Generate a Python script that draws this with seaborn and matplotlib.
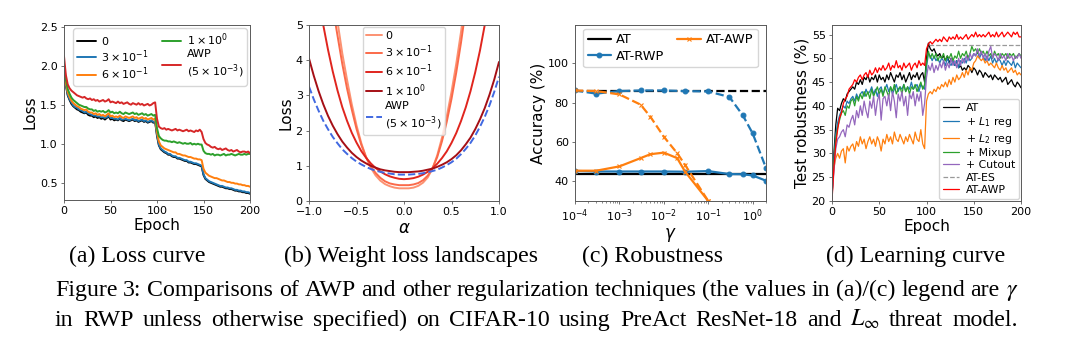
import numpy as np
import matplotlib
matplotlib.use("Agg")
import matplotlib.pyplot as plt
import seaborn as sns

# ---------------------------------------------------------------- data
epochs = np.arange(0, 201, 2)

# (a) training loss per epoch for several gamma values
loss_g0 = [1.98, 1.75, 1.62, 1.56, 1.51, 1.48, 1.46, 1.44, 1.43, 1.41,
           1.40, 1.39, 1.40, 1.37, 1.36, 1.36, 1.34, 1.35, 1.33, 1.34,
           1.32, 1.33, 1.31, 1.33, 1.35, 1.31, 1.32, 1.30, 1.31, 1.30,
           1.32, 1.30, 1.29, 1.31, 1.30, 1.29, 1.30, 1.31, 1.29, 1.30,
           1.28, 1.29, 1.30, 1.28, 1.29, 1.27, 1.28, 1.29, 1.27, 1.28,
           1.10, 0.98, 0.93, 0.91, 0.89, 0.88, 0.86, 0.86, 0.84, 0.83,
           0.83, 0.81, 0.81, 0.80, 0.79, 0.78, 0.78, 0.76, 0.76, 0.75,
           0.74, 0.74, 0.73, 0.72, 0.71, 0.60, 0.55, 0.53, 0.51, 0.50,
           0.49, 0.48, 0.47, 0.46, 0.45, 0.45, 0.44, 0.43, 0.43, 0.42,
           0.42, 0.41, 0.40, 0.40, 0.39, 0.39, 0.38, 0.38, 0.37, 0.37,
           0.36]
loss_g3 = [1.99, 1.76, 1.63, 1.57, 1.53, 1.49, 1.47, 1.46, 1.44, 1.43,
           1.42, 1.40, 1.41, 1.39, 1.38, 1.37, 1.36, 1.36, 1.35, 1.35,
           1.34, 1.34, 1.33, 1.34, 1.36, 1.33, 1.33, 1.32, 1.32, 1.31,
           1.33, 1.31, 1.31, 1.32, 1.31, 1.30, 1.31, 1.32, 1.30, 1.31,
           1.29, 1.30, 1.31, 1.29, 1.30, 1.28, 1.29, 1.30, 1.28, 1.29,
           1.12, 0.99, 0.94, 0.92, 0.90, 0.89, 0.87, 0.87, 0.85, 0.84,
           0.84, 0.82, 0.82, 0.81, 0.80, 0.79, 0.79, 0.77, 0.77, 0.76,
           0.75, 0.75, 0.74, 0.73, 0.72, 0.61, 0.56, 0.54, 0.52, 0.51,
           0.50, 0.49, 0.48, 0.47, 0.46, 0.46, 0.45, 0.44, 0.44, 0.43,
           0.43, 0.42, 0.41, 0.41, 0.40, 0.40, 0.39, 0.39, 0.38, 0.38,
           0.37]
loss_g6 = [2.00, 1.78, 1.66, 1.60, 1.55, 1.52, 1.50, 1.48, 1.47, 1.45,
           1.44, 1.43, 1.44, 1.41, 1.40, 1.40, 1.38, 1.39, 1.37, 1.38,
           1.36, 1.37, 1.35, 1.37, 1.39, 1.35, 1.36, 1.34, 1.35, 1.34,
           1.36, 1.34, 1.33, 1.35, 1.34, 1.33, 1.34, 1.35, 1.33, 1.34,
           1.32, 1.33, 1.34, 1.32, 1.33, 1.31, 1.32, 1.33, 1.31, 1.32,
           1.15, 1.03, 0.98, 0.96, 0.94, 0.93, 0.92, 0.91, 0.90, 0.89,
           0.89, 0.87, 0.87, 0.86, 0.85, 0.85, 0.84, 0.83, 0.83, 0.82,
           0.81, 0.81, 0.80, 0.80, 0.79, 0.68, 0.63, 0.61, 0.59, 0.58,
           0.57, 0.56, 0.56, 0.55, 0.54, 0.53, 0.53, 0.52, 0.51, 0.51,
           0.50, 0.50, 0.49, 0.49, 0.48, 0.48, 0.47, 0.47, 0.46, 0.46,
           0.45]
loss_g10 = [2.02, 1.82, 1.70, 1.64, 1.59, 1.56, 1.54, 1.52, 1.50, 1.49,
            1.48, 1.47, 1.47, 1.45, 1.44, 1.44, 1.42, 1.43, 1.41, 1.42,
            1.41, 1.42, 1.40, 1.41, 1.43, 1.40, 1.41, 1.39, 1.40, 1.39,
            1.41, 1.39, 1.38, 1.40, 1.39, 1.38, 1.39, 1.40, 1.38, 1.39,
            1.37, 1.38, 1.39, 1.37, 1.38, 1.36, 1.37, 1.38, 1.36, 1.37,
            1.20, 1.10, 1.07, 1.05, 1.04, 1.04, 1.03, 1.03, 1.02, 1.03,
            1.02, 1.01, 1.02, 1.01, 1.00, 1.01, 1.00, 1.00, 1.01, 0.99,
            1.00, 0.99, 1.00, 0.99, 0.99, 0.91, 0.88, 0.87, 0.87, 0.86,
            0.87, 0.85, 0.86, 0.86, 0.85, 0.86, 0.87, 0.85, 0.86, 0.86,
            0.87, 0.86, 0.85, 0.86, 0.87, 0.86, 0.86, 0.87, 0.86, 0.87,
            0.87]
loss_awp = [2.12, 1.88, 1.76, 1.71, 1.68, 1.66, 1.64, 1.62, 1.61, 1.60,
            1.59, 1.60, 1.58, 1.57, 1.58, 1.56, 1.57, 1.55, 1.56, 1.54,
            1.55, 1.56, 1.54, 1.55, 1.57, 1.53, 1.54, 1.53, 1.52, 1.54,
            1.52, 1.53, 1.51, 1.52, 1.53, 1.51, 1.50, 1.52, 1.51, 1.50,
            1.52, 1.50, 1.51, 1.49, 1.50, 1.51, 1.49, 1.50, 1.52, 1.53,
            1.32, 1.22, 1.20, 1.19, 1.20, 1.18, 1.19, 1.18, 1.17, 1.18,
            1.19, 1.17, 1.18, 1.17, 1.16, 1.17, 1.18, 1.16, 1.17, 1.16,
            1.15, 1.17, 1.16, 1.18, 1.15, 1.06, 1.01, 0.99, 0.98, 0.96,
            0.95, 0.96, 0.94, 0.93, 0.94, 0.92, 0.93, 0.94, 0.92, 0.91,
            0.92, 0.90, 0.91, 0.92, 0.90, 0.89, 0.90, 0.90, 0.89, 0.90,
            0.88]
loss_labels = ["0", r"$3\times10^{-1}$", r"$6\times10^{-1}$",
               r"$1\times10^{0}$", "AWP\n" + r"($5\times10^{-3}$)"]

# (b) loss along a random weight direction
alphas = np.round(np.linspace(-1.0, 1.0, 41), 2)
land_g0 = [12.0, 10.5, 9.2, 8.0, 6.9, 6.0, 5.1, 4.2, 3.45, 2.75, 2.15,
           1.65, 1.25, 0.95, 0.73, 0.58, 0.48, 0.42, 0.38, 0.36, 0.36,
           0.36, 0.38, 0.43, 0.52, 0.67, 0.92, 1.3, 1.8, 2.4, 3.1,
           3.9, 4.8, 5.8, 6.9, 8.1, 9.4, 10.8, 12.3, 13.9, 15.6]
land_g3 = [11.0, 9.6, 8.4, 7.3, 6.3, 5.5, 4.7, 3.9, 3.2, 2.6, 2.05,
           1.6, 1.25, 0.99, 0.8, 0.66, 0.56, 0.5, 0.47, 0.45, 0.45,
           0.45, 0.47, 0.51, 0.59, 0.72, 0.93, 1.25, 1.7, 2.25, 2.9,
           3.65, 4.5, 5.45, 6.5, 7.6, 8.8, 10.1, 11.5, 13.0, 14.6]
land_g6 = [7.9, 6.8, 5.85, 5.0, 4.3, 3.68, 3.14, 2.67, 2.28, 1.94, 1.66,
           1.42, 1.23, 1.07, 0.94, 0.84, 0.76, 0.70, 0.66, 0.63, 0.62,
           0.63, 0.65, 0.69, 0.75, 0.83, 0.93, 1.06, 1.22, 1.41, 1.65,
           1.93, 2.27, 2.66, 3.12, 3.66, 4.28, 5.0, 5.82, 6.76, 7.82]
land_g10 = [4.05, 3.56, 3.13, 2.75, 2.42, 2.14, 1.90, 1.69, 1.52, 1.37, 1.25,
            1.15, 1.07, 1.00, 0.95, 0.90, 0.87, 0.85, 0.83, 0.82, 0.82,
            0.82, 0.83, 0.84, 0.86, 0.89, 0.92, 0.97, 1.03, 1.10, 1.19,
            1.30, 1.44, 1.61, 1.80, 2.04, 2.32, 2.64, 3.02, 3.45, 3.95]
land_awp = [3.25, 2.89, 2.57, 2.28, 2.04, 1.82, 1.64, 1.47, 1.34, 1.22, 1.12,
            1.04, 0.97, 0.91, 0.86, 0.83, 0.80, 0.78, 0.76, 0.75, 0.75,
            0.75, 0.76, 0.77, 0.79, 0.82, 0.85, 0.89, 0.95, 1.02, 1.10,
            1.20, 1.33, 1.48, 1.65, 1.86, 2.11, 2.39, 2.72, 3.10, 3.53]
land_labels = ["0", r"$3\times10^{-1}$", r"$6\times10^{-1}$",
               r"$1\times10^{0}$", "AWP\n" + r"($5\times10^{-3}$)"]

# (c) natural (dashed) and robust (solid) accuracy against gamma
at_natural = 86.0
at_robust = 43.8
rwp_gamma = [1e-4, 3e-4, 1e-3, 3e-3, 1e-2, 3e-2, 1e-1, 3e-1, 6e-1, 1.0, 2.0]
rwp_natural = [86.2, 84.6, 85.9, 86.2, 86.2, 85.9, 85.7, 82.9, 73.6, 64.4, 46.8]
rwp_robust = [45.3, 45.0, 45.0, 45.0, 45.0, 44.9, 45.2, 43.7, 43.6, 43.0, 40.3]
awp_gamma = [1e-4, 3e-4, 1e-3, 3e-3, 5e-3, 1e-2, 2e-2, 3e-2, 1e-1]
awp_natural = [86.2, 85.9, 84.2, 79.0, 72.8, 62.7, 54.3, 48.4, 30.0]
awp_robust = [45.4, 45.4, 47.6, 51.8, 53.8, 54.6, 51.8, 45.0, 30.0]

# (d) test robustness per epoch
rob_at = [20.5, 30, 36, 39.5, 39, 40.5, 41.5, 41, 42.5, 43,
          43.5, 44, 43.5, 45, 44.5, 45.5, 44.5, 46, 45.5, 46.5,
          45, 46, 45.5, 46.5, 45, 46.5, 45.5, 46, 45, 46.5,
          45.5, 47, 46, 45, 46.5, 46, 47, 45.5, 46.5, 45,
          46, 47, 45.5, 46.5, 46, 47, 45.5, 46.5, 47, 45,
          50, 53.2, 52, 51.5, 52, 51, 50.5, 51, 50, 50.5,
          49.5, 50.5, 49, 50, 49, 48.5, 49.5, 48, 48.5, 47.5,
          48, 47.5, 48.5, 48, 47, 48, 47.5, 46.5, 47.5, 47,
          46, 47, 46.5, 46, 46.5, 45.5, 46.5, 46, 45.5, 46,
          45, 45.5, 46, 44.5, 45, 45.5, 44.5, 44, 45, 44.5,
          43.8]
rob_l1 = [21, 29, 34, 36.5, 38, 39, 40, 39.5, 41, 40.5,
          41.5, 42, 41, 42.5, 41.5, 42.5, 43, 42, 43.5, 42.5,
          43, 44, 42.5, 43.5, 42, 43.5, 44, 42.5, 43.5, 44.5,
          43, 44, 42.5, 43.5, 44.5, 43, 44, 43.5, 44.5, 43,
          44, 43.5, 45, 43.5, 44, 44.5, 43, 44.5, 44, 43.5,
          48, 51, 50.5, 49.5, 50.5, 49.5, 50, 49, 50, 49.5,
          48.5, 50, 49, 48.5, 49.5, 48.5, 49.5, 48, 49.5, 49,
          50, 49, 50.5, 49.5, 50, 51, 50.5, 51.5, 50, 51,
          50.5, 49.5, 50.5, 49.5, 50.5, 49, 50, 49, 50, 49.5,
          48.5, 49.5, 48.5, 49.5, 49, 48.5, 49.5, 48, 49, 48.5,
          48]
rob_l2 = [21, 27, 29, 30, 29, 30.5, 31, 28, 31.5, 30.5,
          31.5, 32, 30.5, 32.5, 31.5, 33.5, 32, 33, 31, 32.5,
          33.5, 32, 33, 31.5, 33.5, 32.5, 30.5, 33, 32, 34,
          32.5, 33.5, 32, 34.5, 33, 32.5, 34, 33, 32, 33.5,
          32.5, 34, 33, 32, 34.5, 33, 32.5, 35, 32, 31,
          41, 42.5, 43, 42.5, 43.5, 43, 44, 43.5, 44.5, 44,
          45, 44, 45.5, 44.5, 46, 45, 46.5, 45.5, 46, 47,
          46, 47.5, 46.5, 48, 47.5, 49, 49.5, 50.5, 50, 49.5,
          50, 49, 49.5, 48.5, 49, 48.5, 48, 49, 48, 47.5,
          48.5, 47.5, 48, 47, 47.5, 48, 47, 47.5, 46.5, 47,
          46.5]
rob_mixup = [22, 28, 33, 35.5, 37, 38.5, 39, 38, 40, 39.5,
             41, 41.5, 40, 42, 41, 42.5, 41.5, 43, 42, 43,
             41.5, 43.5, 42, 43, 44, 42.5, 43.5, 42, 44, 43,
             42, 44, 43, 44.5, 42.5, 43.5, 44, 42.5, 44.5, 43,
             44, 42.5, 44, 43.5, 44.5, 43, 44, 45, 43.5, 44.5,
             49, 51.5, 50, 51, 50, 51, 49.5, 50.5, 50, 51,
             49.5, 50.5, 50, 51, 49.5, 50.5, 50, 51.5, 50, 51,
             50.5, 51.5, 50, 51, 52.5, 51.5, 52, 51, 52, 51,
             51.5, 50.5, 51.5, 50.5, 51, 50, 51.5, 50.5, 51, 50,
             51, 50.5, 51, 50, 51, 50.5, 51, 50, 50.5, 51,
             50.5]
rob_cutout = [21, 26, 31, 33, 33.5, 34.5, 35, 33.5, 36, 35.5,
              37, 38, 36, 39, 37.5, 40, 38, 41, 39, 37.5,
              41, 39.5, 42, 38, 41, 42.5, 37, 41.5, 42, 40,
              42.5, 39, 43, 41, 37.5, 42.5, 41, 43, 40, 42,
              38, 42.5, 41.5, 43, 40, 42.5, 41, 43, 38, 40.5,
              46, 48.5, 47.5, 49, 47, 48.5, 47.5, 49, 48, 49.5,
              47.5, 49, 48, 50, 48.5, 49.5, 48, 50, 48.5, 50,
              49, 50.5, 49.5, 51, 50, 51, 50.5, 52, 50.5, 51.5,
              50, 51, 49.5, 51.5, 52.5, 50, 51, 50.5, 49.5, 51,
              50, 50.5, 49.5, 51, 50, 50.5, 49.5, 50.5, 50, 51,
              50]
rob_awp = [20, 27, 32, 35, 37.5, 38.5, 40.5, 41.5, 42, 43.5,
           44, 44.5, 45.5, 45, 46, 46.5, 45.5, 46.5, 47, 46,
           47.5, 46.5, 47, 48, 47, 48, 47.5, 48.5, 47.5, 48,
           49, 47.5, 48.5, 48, 49.5, 48, 48.5, 47.5, 49, 48,
           48.5, 49, 47.5, 48.5, 49, 48, 49.5, 48.5, 49, 48.5,
           52, 53, 53.5, 53, 53.5, 54, 53.5, 54, 53.5, 54.5,
           54, 53.5, 54.5, 54, 54.5, 54, 55, 54, 54.5, 54,
           54.5, 55, 54, 54.5, 55, 54.5, 55.5, 54.5, 55, 54.5,
           55, 54.5, 55, 55.5, 54.5, 55, 54.5, 55.5, 54.5, 55,
           55.5, 54.5, 55, 55.5, 55, 54.5, 55.5, 55, 55.5, 54.5,
           54.5]
es_epochs = [103, 200]
es_value = [52.8, 52.8]

# ---------------------------------------------------------------- style
sns.set_theme(style="ticks")
plt.rcParams.update({
    "font.family": ["DejaVu Sans"],
    "axes.edgecolor": "0.35",
    "axes.linewidth": 0.7,
    "axes.labelcolor": "black",
    "text.color": "black",
    "xtick.color": "0.35", "ytick.color": "0.35",
    "xtick.labelcolor": "black", "ytick.labelcolor": "black",
    "xtick.major.size": 2.5, "ytick.major.size": 2.5,
    "xtick.major.width": 0.6, "ytick.major.width": 0.6,
    "xtick.minor.size": 1.5, "xtick.minor.width": 0.5,
    "xtick.labelsize": 8, "ytick.labelsize": 8,
    "xtick.major.pad": 2, "ytick.major.pad": 2,
    "axes.labelsize": 11, "axes.labelpad": 1.5,
    "legend.fancybox": True, "legend.framealpha": 0.8,
    "legend.edgecolor": "0.8",
})

W, H = 1069, 349
fig = plt.figure(figsize=(W / 100, H / 100), dpi=100)


def panel(l, t, r, b):
    return fig.add_axes([l / W, 1 - b / H, (r - l) / W, (b - t) / H])


def draw(ax, x, y, **kw):
    sns.lineplot(x=x, y=y, ax=ax, estimator=None, sort=False, **kw)


# ---------------------------------------------------------------- (a)
ax = panel(64, 25, 250, 200)
for ys, col, lab in zip([loss_g0, loss_g3, loss_g6, loss_g10, loss_awp],
                        ["black", "tab:blue", "tab:orange", "tab:green", "tab:red"],
                        loss_labels):
    draw(ax, epochs, ys, color=col, lw=1.4, label=lab)
ax.set_xlim(0, 200)
ax.set_ylim(0.28, 2.52)
ax.set_xticks([0, 50, 100, 150, 200])
ax.set_yticks([0.5, 1.0, 1.5, 2.0, 2.5])
ax.set_xlabel("Epoch")
ax.set_ylabel("Loss")
ax.legend(ncol=2, loc="upper right", fontsize=8, handlelength=1.7,
          handletextpad=0.5, columnspacing=1.2, borderpad=0.3,
          labelspacing=0.1, borderaxespad=0.3)

# ---------------------------------------------------------------- (b)
ax = panel(309, 25, 499, 201)
for ys, col, lab in zip([land_g0, land_g3, land_g6, land_g10],
                        ["#fc9272", "#fb6a4a", "#e0251e", "#a50f15"],
                        land_labels[:4]):
    draw(ax, alphas, ys, color=col, lw=1.4, label=lab)
draw(ax, alphas, land_awp, color="royalblue", lw=1.4, linestyle="--",
     label=land_labels[4])
ax.set_xlim(-1, 1)
ax.set_ylim(0, 5)
ax.set_xticks([-1.0, -0.5, 0.0, 0.5, 1.0])
ax.set_xlabel(r"$\alpha$", fontsize=12)
ax.set_ylabel("Loss")
ax.legend(loc="upper center", fontsize=8, handlelength=1.4,
          handletextpad=0.3, borderpad=0.3, labelspacing=0.25,
          borderaxespad=0.2)

# ---------------------------------------------------------------- (c)
ax = panel(575, 25, 766, 201)
ax.set_xscale("log")
ax.axhline(at_robust, color="black", lw=1.6, label="AT")
ax.axhline(at_natural, color="black", lw=1.6, ls="--")
draw(ax, rwp_gamma, rwp_robust, color="tab:blue", lw=1.6, marker="o",
     markersize=3.5, markeredgecolor="tab:blue", label="AT-RWP")
draw(ax, rwp_gamma, rwp_natural, color="tab:blue", lw=1.6, linestyle="--",
     marker="o", markersize=3.5, markeredgecolor="tab:blue")
draw(ax, awp_gamma, awp_robust, color="tab:orange", lw=1.6, marker="x",
     markersize=3.5, markeredgecolor="tab:orange", markeredgewidth=0.8,
     label="AT-AWP")
draw(ax, awp_gamma, awp_natural, color="tab:orange", lw=1.6, linestyle="--",
     marker="x", markersize=3.5, markeredgecolor="tab:orange",
     markeredgewidth=0.8)
ax.set_xlim(1e-4, 2.0)
ax.set_ylim(30, 119.5)
ax.set_yticks([40, 60, 80, 100])
ax.set_xticks([1e-4, 1e-3, 1e-2, 1e-1, 1e0])
ax.set_xlabel(r"$\gamma$", fontsize=12)
ax.set_ylabel("Accuracy (%)")
ax.legend(ncol=2, loc="upper center", fontsize=9.3, handlelength=1.8,
          handletextpad=0.4, columnspacing=1.0, borderpad=0.35,
          labelspacing=0.25, borderaxespad=0.3)

# ---------------------------------------------------------------- (d)
ax = panel(832, 25, 1021, 201)
for ys, col, lab in zip([rob_at, rob_l1, rob_l2, rob_mixup, rob_cutout],
                        ["black", "tab:blue", "tab:orange", "tab:green", "tab:purple"],
                        ["AT", r"+ $L_1$ reg", r"+ $L_2$ reg", "+ Mixup", "+ Cutout"]):
    draw(ax, epochs, ys, color=col, lw=0.9, label=lab)
draw(ax, es_epochs, es_value, color="0.6", lw=0.9, linestyle="--", label="AT-ES")
draw(ax, epochs, rob_awp, color="red", lw=0.9, label="AT-AWP")
ax.set_xlim(0, 200)
ax.set_ylim(20, 57)
ax.set_xticks([0, 50, 100, 150, 200])
ax.set_yticks([20, 25, 30, 35, 40, 45, 50, 55])
ax.set_xlabel("Epoch")
ax.set_ylabel("Test robustness (%)")
ax.legend(loc="lower right", fontsize=7.8, handlelength=1.5,
          handletextpad=0.6, borderpad=0.35, labelspacing=0.22,
          borderaxespad=0.2)

# ---------------------------------------------------------------- captions
serif = dict(family="Liberation Serif", fontsize=17.2, math_fontfamily="stix")
for cx, txt in [(137, "(a) Loss curve"), (411, "(b) Weight loss landscapes"),
                (653, "(c) Robustness"), (916, "(d) Learning curve")]:
    fig.text(cx / W, 1 - 256 / H, txt, ha="center", va="center", **serif)

caption_lines = [
    "Figure 3: Comparisons of AWP and other regularization techniques "
    r"(the values in (a)/(c) legend are $\gamma$",
    "in RWP unless otherwise specified) on CIFAR-10 using PreAct "
    r"ResNet-18 and $L_\infty$ threat model.",
]
renderer = fig.canvas.get_renderer()
x_left, x_right = 55, 1018
for base_y, line in zip([296, 326], caption_lines):
    words = line.split(" ")
    pieces = [fig.text(0, 1 - base_y / H, w, ha="left", va="baseline", **serif)
              for w in words]
    widths = [p.get_window_extent(renderer).width for p in pieces]
    gap = (x_right - x_left - sum(widths)) / (len(words) - 1)
    x = x_left
    for p, w in zip(pieces, widths):
        p.set_x(x / W)
        x += w + gap

fig.savefig("out.png", dpi=100)
